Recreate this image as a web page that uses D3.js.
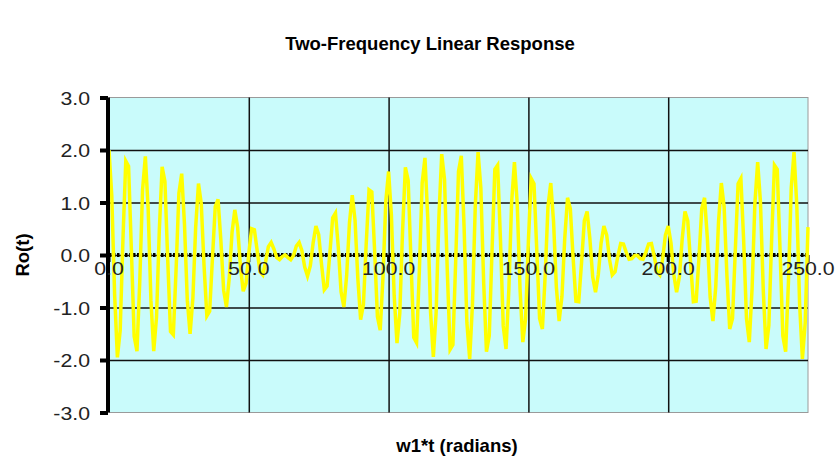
<!DOCTYPE html>
<html>
<head>
<meta charset="utf-8">
<script src="https://cdn.jsdelivr.net/npm/d3@7"></script>
<style>
  body { margin: 0; background: #ffffff; }
  text { font-family: Arial, "Liberation Sans", sans-serif; fill: #000; }
</style>
</head>
<body>
<svg id="chart"></svg>
<script>
var tStep = 1;
var roValues = [
  2.00, 1.12, -0.74, -1.95, -1.44, 0.32, 1.79, 1.69, 0.11, -1.55,
  -1.83, -0.51, 1.24, 1.88, 0.88, -0.87, -1.83, -1.18, 0.48, 1.68,
  1.40, -0.09, -1.46, -1.52, -0.27, 1.18, 1.55, 0.58, -0.86, -1.50,
  -0.82, 0.53, 1.36, 0.98, -0.21, -1.16, -1.07, -0.06, 0.92, 1.06,
  0.29, -0.67, -0.99, -0.44, 0.43, 0.86, 0.53, -0.21, -0.69, -0.54,
  0.03, 0.50, 0.48, 0.08, -0.32, -0.38, -0.13, 0.16, 0.24, 0.11,
  -0.05, -0.09, -0.03, 0.00, -0.05, -0.09, -0.01, 0.17, 0.24, 0.08,
  -0.23, -0.40, -0.21, 0.23, 0.55, 0.39, -0.17, -0.66, -0.59, 0.04,
  0.71, 0.80, 0.15, -0.70, -0.99, -0.39, 0.61, 1.14, 0.66, -0.45,
  -1.23, -0.94, 0.22, 1.24, 1.20, 0.08, -1.17, -1.43, -0.41, 1.02,
  1.59, 0.76, -0.78, -1.68, -1.11, 0.47, 1.67, 1.42, -0.10, -1.57,
  -1.67, -0.30, 1.37, 1.85, 0.71, -1.08, -1.94, -1.10, 0.73, 1.92,
  1.44, -0.32, -1.80, -1.71, -0.11, 1.59, 1.89, 0.53, -1.29, -1.98,
  -0.93, 0.93, 1.96, 1.27, -0.52, -1.84, -1.54, 0.10, 1.63, 1.71,
  0.30, -1.35, -1.79, -0.67, 1.01, 1.77, 0.98, -0.64, -1.66, -1.21,
  0.27, 1.46, 1.36, 0.08, -1.21, -1.41, -0.39, 0.92, 1.37, 0.63,
  -0.61, -1.26, -0.79, 0.32, 1.09, 0.88, -0.06, -0.88, -0.89, -0.15,
  0.65, 0.83, 0.30, -0.42, -0.71, -0.37, 0.23, 0.55, 0.38, -0.08,
  -0.38, -0.32, -0.02, 0.22, 0.21, 0.05, -0.08, -0.07, -0.01, -0.01,
  -0.07, -0.08, 0.05, 0.21, 0.22, -0.02, -0.32, -0.38, -0.08, 0.38,
  0.55, 0.23, -0.37, -0.71, -0.42, 0.30, 0.83, 0.65, -0.15, -0.89,
  -0.88, -0.06, 0.88, 1.09, 0.32, -0.80, -1.26, -0.61, 0.63, 1.37,
  0.92, -0.39, -1.41, -1.21, 0.09, 1.36, 1.46, 0.26, -1.21, -1.66,
  -0.64, 0.98, 1.77, 1.01, -0.67, -1.79, -1.34, 0.30, 1.71, 1.63,
  0.10, -1.54, -1.84, -0.52, 1.27, 1.96, 0.93, -0.93, -1.98, -1.29,
  0.53
];
var xTicks = [0, 50, 100, 150, 200, 250];
var yTicks = [-3, -2, -1, 0, 1, 2, 3];
var titleText = "Two-Frequency Linear Response";
var xTitle = "w1*t (radians)";
var yTitle = "Ro(t)";

var width = 838, height = 468;
var plot = {left: 109, right: 808, top: 97.5, bottom: 412.5};
// plain hyphen for negatives, like the original
var fmt = d3.formatLocale({decimal: ".", thousands: ",", grouping: [3], currency: ["", ""], minus: "-"}).format(".1f");
var labelStretch = 1.12;   // the original gif is a bit wider than tall

var svg = d3.select("#chart")
    .attr("width", width)
    .attr("height", height);

var xScale = d3.scaleLinear().domain([0, 250]).range([plot.left, plot.right]);
var yScale = d3.scaleLinear().domain([-3, 3]).range([plot.bottom, plot.top]);

// plot area
svg.append("rect")
    .attr("x", plot.left)
    .attr("y", plot.top)
    .attr("width", plot.right - plot.left)
    .attr("height", plot.bottom - plot.top)
    .style("fill", "#c9fbfb")
    .style("stroke", "#9a9a9a")
    .style("stroke-width", 1);

// gridlines
svg.append("g")
    .attr("transform", "translate(0," + plot.bottom + ")")
    .call(d3.axisBottom(xScale).tickValues(xTicks.slice(1, -1)).tickSize(-(plot.bottom - plot.top)).tickFormat(""))
    .call(function(g){ g.select(".domain").remove(); })
    .selectAll("line").style("stroke", "#111").style("stroke-width", 1.5);
svg.append("g")
    .attr("transform", "translate(" + plot.left + ",0)")
    .call(d3.axisLeft(yScale).tickValues(yTicks.slice(1, -1)).tickSize(-(plot.right - plot.left)).tickFormat(""))
    .call(function(g){ g.select(".domain").remove(); })
    .selectAll("line").style("stroke", "#111").style("stroke-width", 1.5);

// x axis at Ro = 0 (thick dotted)
svg.append("line")
    .attr("x1", xScale(0)).attr("x2", xScale(250))
    .attr("y1", yScale(0)).attr("y2", yScale(0))
    .style("stroke", "#000")
    .style("stroke-width", 4)
    .style("stroke-dasharray", "2.5,1.5");
svg.selectAll(".xtick")
    .data(xTicks)
    .enter().append("line")
    .attr("x1", function(d){ return xScale(d); })
    .attr("x2", function(d){ return xScale(d); })
    .attr("y1", yScale(0))
    .attr("y2", yScale(0) + 7)
    .style("stroke", "#000")
    .style("stroke-width", 3);

// series
var line = d3.line()
    .x(function(d, i){ return xScale(i * tStep); })
    .y(function(d){ return yScale(d); });
svg.append("path")
    .datum(roValues)
    .attr("d", line)
    .style("fill", "none")
    .style("stroke", "#ffff00")
    .style("stroke-width", 3.5)
    .style("stroke-linejoin", "miter");

// left axis, thick with outside ticks
var yAxis = svg.append("g")
    .attr("transform", "translate(" + (plot.left - 1) + ",0)")
    .call(d3.axisLeft(yScale).tickValues(yTicks).tickSize(8).tickFormat(""));
yAxis.select(".domain").style("stroke", "#000").style("stroke-width", 4)
    .attr("d", "M0," + plot.top + "V" + plot.bottom);
yAxis.selectAll("line").style("stroke", "#000").style("stroke-width", 4);

svg.selectAll(".ylabel")
    .data(yTicks)
    .enter().append("text")
    .attr("transform", function(d){ return "translate(90," + (yScale(d) + 7) + ") scale(" + labelStretch + ",1)"; })
    .attr("text-anchor", "end")
    .style("font-size", "19px")
    .style("fill", "#222")
    .text(function(d){ return fmt(d); });

// x tick labels sit just under the zero line
svg.selectAll(".xlabel")
    .data(xTicks)
    .enter().append("text")
    .attr("transform", function(d){ return "translate(" + xScale(d) + "," + (yScale(0) + 20) + ") scale(" + labelStretch + ",1)"; })
    .attr("text-anchor", "middle")
    .style("font-size", "19px")
    .style("fill", "#222")
    .text(function(d){ return fmt(d); });

// titles
svg.append("text")
    .attr("x", 430).attr("y", 50)
    .attr("text-anchor", "middle")
    .style("font-size", "18.5px")
    .style("font-weight", "bold")
    .text(titleText);
svg.append("text")
    .attr("x", 457).attr("y", 452)
    .attr("text-anchor", "middle")
    .style("font-size", "18.5px")
    .style("font-weight", "bold")
    .text(xTitle);
svg.append("text")
    .attr("transform", "translate(29," + yScale(0) + ") rotate(-90)")
    .attr("text-anchor", "middle")
    .style("font-size", "18.5px")
    .style("font-weight", "bold")
    .text(yTitle);
</script>
</body>
</html>
